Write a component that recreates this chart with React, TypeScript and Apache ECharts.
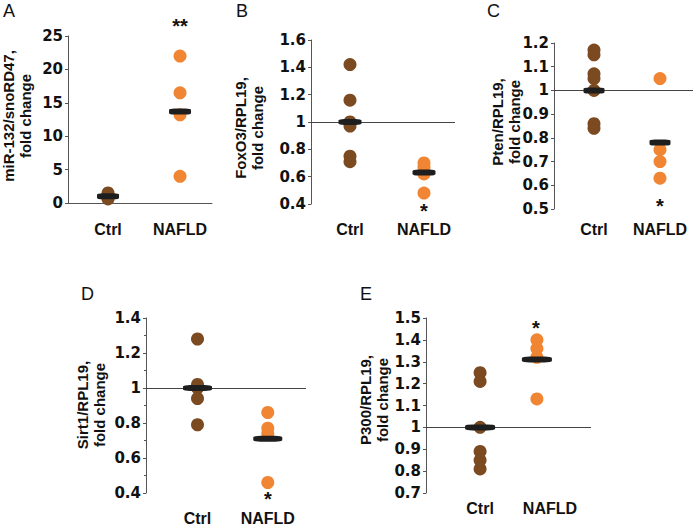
import React, { useEffect, useRef } from "react";
import * as echarts from "echarts";

const categories = ["Ctrl", "NAFLD"];
const panelLetters = ["A", "B", "C", "D", "E"];
const axisNames = [
  "miR-132/snoRD47,\nfold change",
  "FoxO3/RPL19,\nfold change",
  "Pten/RPL19,\nfold change",
  "Sirt1/RPL19,\nfold change",
  "P300/RPL19,\nfold change",
];
const significance = ["**", "*", "*", "*", "*"];

// Panel A
const ctrlA = [1.5, 1.2, 0.8, 0.6];
const nafldA = [22, 16.5, 13.2, 4];
const meanA = [1.0, 13.7];
// Panel B
const ctrlB = [1.42, 1.16, 1.0, 0.97, 0.75, 0.71];
const nafldB = [0.7, 0.67, 0.62, 0.48];
const meanB = [1.0, 0.63];
// Panel C
const ctrlC = [1.17, 1.15, 1.07, 1.05, 1.0, 0.86, 0.84];
const nafldC = [1.05, 0.75, 0.7, 0.63];
const meanC = [1.0, 0.78];
// Panel D
const ctrlD = [1.28, 1.02, 1.0, 0.94, 0.79];
const nafldD = [0.86, 0.77, 0.74, 0.46];
const meanD = [1.0, 0.71];
// Panel E
const ctrlE = [1.25, 1.21, 1.0, 0.89, 0.85, 0.81];
const nafldE = [1.4, 1.36, 1.32, 1.13];
const meanE = [1.0, 1.31];

// y-axis ranges / tick steps
const yMin = [0, 0.4, 0.5, 0.4, 0.7];
const yMax = [25, 1.6, 1.2, 1.4, 1.5];
const yStep = [5, 0.2, 0.1, 0.2, 0.1];

const ctrlAll = [ctrlA, ctrlB, ctrlC, ctrlD, ctrlE];
const nafldAll = [nafldA, nafldB, nafldC, nafldD, nafldE];
const meanAll = [meanA, meanB, meanC, meanD, meanE];

const BROWN = "#7b4a20";
const ORANGE = "#f08533";
const BAR = "#1e1e1e";
const TEXT = "#111111";

const layout = [
  { left: 68, top: 36, width: 144, height: 167, xmin: -0.556, xmax: 1.444, labelPos: [0, 1], labelMargin: 18, barW: 22, name: [17, 116], star: [180, 26], letter: [3, 2] },
  { left: 311, top: 40, width: 144, height: 164, xmin: -0.527, xmax: 1.419, labelPos: [0, 1], labelMargin: 17, barW: 23, name: [249, 128], star: [424, 211], letter: [236, 2] },
  { left: 554, top: 43, width: 139, height: 166, xmin: -0.606, xmax: 1.5, labelPos: [0, 1], labelMargin: 12, barW: 21, name: [506, 122], star: [660, 206], letter: [487, 2] },
  { left: 146, top: 318, width: 160, height: 175, xmin: -0.733, xmax: 1.544, labelPos: [0, 1], labelMargin: 17, barW: 29, name: [91, 405], star: [268, 499], letter: [81, 285] },
  { left: 426, top: 318, width: 165, height: 175, xmin: -0.952, xmax: 1.952, labelPos: [0, 1.23], labelMargin: 7, barW: 30, name: [374, 400], star: [536, 328], letter: [360, 285] },
];

export default function App() {
  const ref = useRef<HTMLDivElement>(null);
  useEffect(() => {
    if (!ref.current) return;
    const chart = echarts.init(ref.current, undefined, { renderer: "svg" });

    const grid: any[] = [];
    const xAxis: any[] = [];
    const yAxis: any[] = [];
    const series: any[] = [];
    const graphic: any[] = [];

    layout.forEach((L, i) => {
      grid.push({ left: L.left, top: L.top, width: L.width, height: L.height, containLabel: false, outerBoundsMode: "none" });
      xAxis.push({
        type: "value",
        gridIndex: i,
        min: L.xmin,
        max: L.xmax,
        splitLine: { show: false },
        axisTick: { show: false },
        axisLine: { show: i === 0, onZero: false, lineStyle: { color: "#555", width: 1 } },
        axisLabel: {
          show: true,
          customValues: L.labelPos,
          showMinLabel: true,
          showMaxLabel: true,
          formatter: (v: number) => (v < 0.5 ? categories[0] : categories[1]),
          margin: L.labelMargin,
          fontFamily: "Liberation Sans",
          fontWeight: "bold",
          fontSize: 16,
          color: TEXT,
        },
      });
      yAxis.push({
        type: "value",
        gridIndex: i,
        min: yMin[i],
        max: yMax[i],
        interval: yStep[i],
        splitLine: { show: false },
        axisLine: { show: true, onZero: false, lineStyle: { color: "#555", width: 1 } },
        axisTick: { show: true, length: 3, lineStyle: { color: "#555" } },
        minorTick: { show: i === 3, splitNumber: 2, length: 2, lineStyle: { color: "#555" } },
        axisLabel: {
          margin: 5,
          fontFamily: "DejaVu Sans",
          fontWeight: "bold",
          fontSize: 15,
          color: TEXT,
        },
      });
      const ctrlSeries: any = {
        type: "scatter",
        xAxisIndex: i,
        yAxisIndex: i,
        symbol: "circle",
        symbolSize: 13,
        itemStyle: { color: BROWN, opacity: 1 },
        data: ctrlAll[i].map((v) => [0, v]),
        z: 2,
      };
      if (i > 0) {
        ctrlSeries.markLine = {
          silent: true,
          symbol: "none",
          label: { show: false },
          lineStyle: { color: "#444", width: 1, type: "solid" },
          data: [{ yAxis: 1 }],
          z: 1,
        };
      }
      series.push(ctrlSeries);
      series.push({
        type: "scatter",
        xAxisIndex: i,
        yAxisIndex: i,
        symbol: "circle",
        symbolSize: 13,
        itemStyle: { color: ORANGE, opacity: 1 },
        data: nafldAll[i].map((v) => [1, v]),
        z: 2,
      });
      series.push({
        type: "scatter",
        xAxisIndex: i,
        yAxisIndex: i,
        symbol: "roundRect",
        symbolSize: [L.barW, 6],
        itemStyle: { color: BAR, opacity: 1 },
        data: meanAll[i].map((v, k) => [k, v]),
        z: 5,
      });

      graphic.push({
        type: "text",
        x: L.name[0],
        y: L.name[1],
        rotation: Math.PI / 2,
        style: {
          text: axisNames[i],
          font: "bold 15px 'Liberation Sans'",
          fill: TEXT,
          textAlign: "center",
          textVerticalAlign: "middle",
          lineHeight: 17,
        },
      });
      graphic.push({
        type: "text",
        x: L.star[0],
        y: L.star[1],
        style: {
          text: significance[i],
          font: "bold 20px 'Liberation Sans'",
          fill: TEXT,
          textAlign: "center",
          textVerticalAlign: "middle",
        },
      });
      graphic.push({
        type: "text",
        x: L.letter[0],
        y: L.letter[1],
        style: {
          text: panelLetters[i],
          font: "18px 'Liberation Sans'",
          fill: TEXT,
          textAlign: "left",
          textVerticalAlign: "top",
        },
      });
    });

    chart.setOption({
      animation: false,
      backgroundColor: "#ffffff",
      grid,
      xAxis,
      yAxis,
      series,
      graphic,
    });
    return () => chart.dispose();
  }, []);
  return (
    <div
      ref={ref}
      style={{ position: "fixed", left: 0, top: 0, width: 695, height: 526 }}
    />
  );
}
